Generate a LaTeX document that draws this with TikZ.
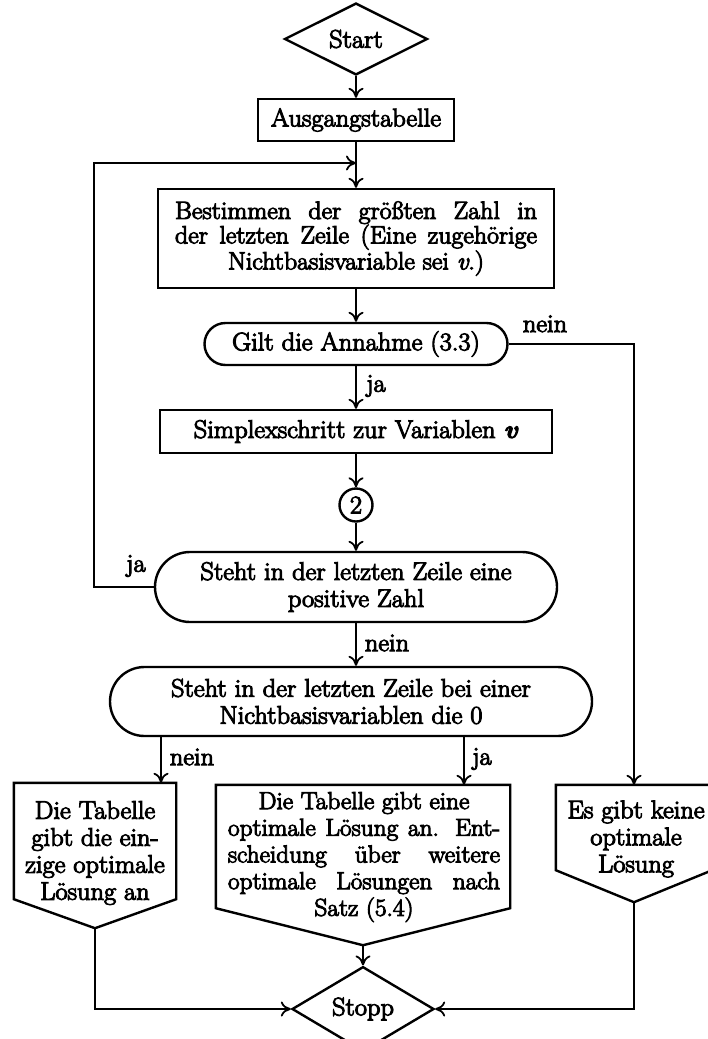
\documentclass[tikz,border=0pt]{standalone}
\usepackage{fontspec}
\setmainfont{Latin Modern Roman}[FakeStretch=1.035,FakeBold=4]
\usetikzlibrary{shapes.geometric,shapes.misc,arrows.meta,calc}

% a line spread to a given width (justified line)
\newcommand{\jl}[2]{\makebox[#1][s]{#2}}

\begin{document}
\begin{tikzpicture}[x=1pt,y=-1pt,
  every node/.style={font=\fontsize{25.5}{27}\selectfont},
  line/.style={line width=2.4pt},
  arr/.style={line width=2.4pt,-{To[length=10pt,width=15pt,line width=1.8pt]}},
  box/.style={draw,line width=2.4pt,rectangle,inner sep=0pt,align=center},
  oval/.style={draw,line width=2.4pt,rounded rectangle,inner sep=0pt,align=center},
  dia/.style={draw,line width=2.4pt,diamond,inner sep=0pt,minimum width=143pt,minimum height=63pt},
  lbl/.style={inner sep=0pt},
  ptext/.style={inner sep=0pt,align=center},
]
\useasboundingbox (0,0) rectangle (708,1039);

% main column
\node[dia] (start) at (356,39) {Start};
\node[box,minimum width=196pt,minimum height=42pt] (ausg) at (356,120) {Ausgangstabelle};
\coordinate (merge) at (356,163);
\node[box,minimum width=396pt,minimum height=99pt,font=\fontsize{25}{24.5}\selectfont] (best) at (356,238.5)
  {\jl{362pt}{Bestimmen der größten Zahl in}\\\jl{362pt}{der letzten Zeile (Eine zugehörige}\\Nichtbasisvariable sei \textit{v}.)};
\node[oval,minimum width=303pt,minimum height=42pt] (gilt) at (356,344) {Gilt die Annahme (3.3)};
\node[box,minimum width=392pt,minimum height=43pt] (simp) at (356,431.5) {Simplexschritt zur Variablen \textit{\textbf{v}}};
\node[draw,circle,line width=2.4pt,minimum size=33pt,inner sep=0pt] (two) at (356,505) {2};
\node[oval,minimum width=402pt,minimum height=70pt] (st1) at (356,587) {Steht in der letzten Zeile eine\\positive Zahl};
\node[oval,minimum width=482pt,minimum height=69pt] (st2) at (351,701.5) {Steht in der letzten Zeile bei einer\\Nichtbasisvariablen die 0};

% result blocks: rectangular part, pointed bottom, text
\node[inner sep=0pt,minimum width=162pt,minimum height=116pt] (pA) at (95,841) {};
\coordinate (pAtip) at ($(pA.south)+(0,29)$);
\draw[line,line join=miter] (pA.north west) -- (pA.north east) -- (pA.south east) -- (pAtip) -- (pA.south west) -- cycle;
\node[ptext] (tA) at (95,853) {Die Tabelle\\gibt die ein-\\zige optimale\\Lösung an};

\node[inner sep=0pt,minimum width=294pt,minimum height=123pt] (pB) at (363,846.5) {};
\coordinate (pBtip) at ($(pB.south)+(0,37)$);
\draw[line,line join=miter] (pB.north west) -- (pB.north east) -- (pB.south east) -- (pBtip) -- (pB.south west) -- cycle;
\node[ptext,font=\fontsize{24.5}{26.7}\selectfont] (tB) at (364,857) {Die Tabelle gibt eine\\\jl{272pt}{optimale Lösung an. Ent-}\\\jl{272pt}{scheidung über weitere}\\\jl{272pt}{optimale Lösungen nach}\\Satz (5.4)};

\node[inner sep=0pt,minimum width=156pt,minimum height=85pt] (pC) at (634,827.5) {};
\coordinate (pCtip) at ($(pC.south)+(0,32)$);
\draw[line,line join=miter] (pC.north west) -- (pC.north east) -- (pC.south east) -- (pCtip) -- (pC.south west) -- cycle;
\node[ptext] (tC) at (636,839) {Es gibt keine\\optimale\\Lösung};

\node[dia,minimum width=142pt,minimum height=62pt] (stop) at (363,1009) {Stopp};

% x positions of the branch lines below the second question
\coordinate (loopx) at (94,0);
\coordinate (nAx) at (161,0);
\coordinate (nBx) at (464,0);

% connectors
\draw[arr] (start.south) -- (ausg.north);
\draw[arr] (ausg.south) -- (best.north);
\draw[arr] (st1.west) -- (st1.west -| loopx) |- (merge);
\draw[arr] (best.south) -- (gilt.north);
\draw[arr] (gilt.south) -- (simp.north);
\draw[arr] (simp.south) -- (two.north);
\draw[arr] (two.south) -- (st1.north);
\draw[arr] (st1.south) -- (st1.south |- st2.north);
\draw[arr] (gilt.east) -| (pC.north);
\draw[arr] (st2.south -| nAx) -- (pA.north -| nAx);
\draw[arr] (st2.south -| nBx) -- (pB.north -| nBx);
\draw[arr] (pAtip) |- (stop.west);
\draw[arr] (pBtip) -- (stop.north);
\draw[arr] (pCtip) |- (stop.east);

% branch labels
\node[lbl,anchor=base] (lnein1) at (545,332) {nein};
\node[lbl] (lja1) at (376,386) {ja};
\node[lbl] (lja2) at (136,566) {ja};
\node[lbl] (lnein2) at (387,643) {nein};
\node[lbl] (lnein3) at (192,757) {nein};
\node[lbl] (lja3) at (482,759) {ja};
\end{tikzpicture}
\end{document}
